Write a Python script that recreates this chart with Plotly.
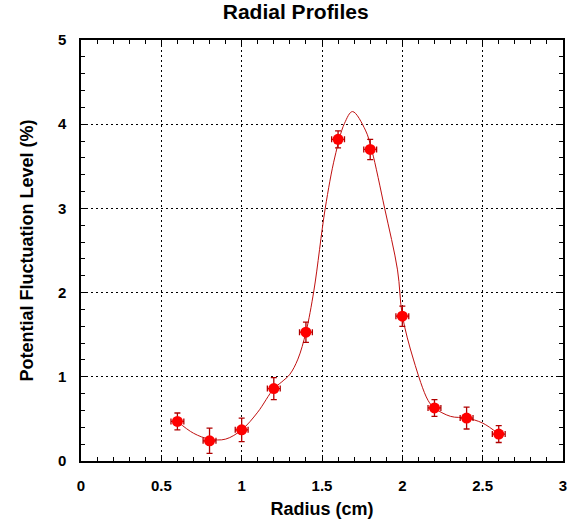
import plotly.graph_objects as go

# Measured points
radius = [0.6, 0.8, 1.0, 1.2, 1.4, 1.6, 1.8, 2.0, 2.2, 2.4, 2.6]
level = [0.47, 0.24, 0.37, 0.86, 1.53, 3.82, 3.70, 1.72, 0.63, 0.51, 0.32]
level_err = [0.10, 0.15, 0.14, 0.13, 0.12, 0.10, 0.12, 0.12, 0.10, 0.13, 0.10]
radius_err = [0.04] * 11

# Fitted curve
fit_x = [0.6, 0.7, 0.8, 0.9, 1.0, 1.1, 1.2, 1.25, 1.3, 1.35, 1.4, 1.45, 1.52, 1.58, 1.64, 1.69,
         1.77, 1.81, 1.89, 1.97, 2.0, 2.07, 2.16, 2.2, 2.3, 2.4, 2.5, 2.6]
fit_y = [0.47, 0.33, 0.26, 0.26, 0.37, 0.58, 0.86, 0.94, 1.03, 1.21, 1.53, 2.03, 3.0, 3.61, 4.01, 4.15,
         3.93, 3.69, 3.0, 2.27, 1.73, 1.2, 0.72, 0.63, 0.53, 0.51, 0.45, 0.32]

x_ticks = [0, 0.5, 1, 1.5, 2, 2.5, 3]
y_ticks = [0, 1, 2, 3, 4, 5]

fig = go.Figure()
fig.add_trace(go.Scatter(
    x=fit_x, y=fit_y, mode="lines",
    line=dict(color="#c01010", width=1, shape="spline", smoothing=1.0),
    hoverinfo="skip", showlegend=False))
fig.add_trace(go.Scatter(
    x=radius, y=level, mode="markers",
    marker=dict(color="#ff0000", size=11, line=dict(width=0)),
    error_y=dict(type="data", array=level_err, color="#b00000", thickness=1.3, width=3),
    error_x=dict(type="data", array=radius_err, color="#b00000", thickness=1.3, width=3),
    showlegend=False))

font_fam = "Liberation Sans, Arial"
tickfont = dict(family=font_fam, size=15, color="black", weight="bold")
axis_common = dict(
    showline=True, linecolor="black", linewidth=1.5, mirror="allticks",
    ticks="inside", ticklen=6, tickwidth=1, tickcolor="black",
    showgrid=True, gridcolor="black", gridwidth=1, griddash="2px,3px",
    zeroline=False, tickfont=tickfont,
)

fig.update_layout(
    width=572, height=527,
    margin=dict(l=81, r=5, t=40, b=66),
    paper_bgcolor="white", plot_bgcolor="white",
    title=dict(text="Radial Profiles", x=0.517, xref="container", xanchor="center",
               y=0.977, yref="container", yanchor="middle",
               font=dict(family=font_fam, size=21, color="black", weight="bold")),
    xaxis=dict(range=[0, 3], tickvals=x_ticks, ticktext=[str(v) for v in x_ticks],
               ticklabelstandoff=10,
               minor=dict(dtick=0.1, ticks="inside", ticklen=4, tickcolor="black", showgrid=False),
               title=dict(text="Radius (cm)", standoff=10,
                          font=dict(family=font_fam, size=18, color="black", weight="bold")),
               **axis_common),
    yaxis=dict(range=[0, 5], tickvals=y_ticks, ticktext=[str(v) for v in y_ticks],
               ticklabelstandoff=10,
               minor=dict(dtick=0.2, ticks="inside", ticklen=4, tickcolor="black", showgrid=False),
               title=dict(text="Potential Fluctuation Level (%)", standoff=20,
                          font=dict(family=font_fam, size=18, color="black", weight="bold")),
               **axis_common),
)

fig.write_html("out.html")
